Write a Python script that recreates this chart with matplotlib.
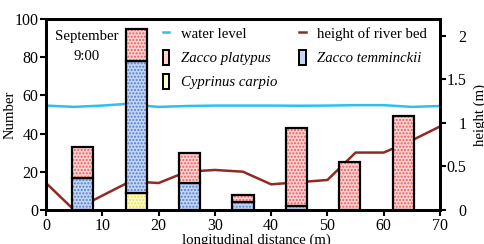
import matplotlib
matplotlib.use("Agg")
import matplotlib.pyplot as plt
import numpy as np
from matplotlib.patches import Patch
from matplotlib.lines import Line2D

plt.rcParams['font.family'] = ['Liberation Serif', 'DejaVu Serif']
plt.rcParams['hatch.linewidth'] = 1.0

# --- data ---
positions = [6.5, 16, 25.5, 35, 44.5, 54, 63.5]
cyprinus = [0, 9, 0, 0, 0, 0, 0]
temminckii = [17, 69, 14, 4, 2, 0, 0]
platypus = [16, 17, 16, 4, 41, 25, 49]

dist_water = [0, 5, 10, 14, 20, 25, 30, 35, 40, 45, 50, 55, 60, 65, 70]
water_level = [1.20, 1.185, 1.20, 1.218, 1.185, 1.195, 1.20, 1.20, 1.20, 1.198, 1.20, 1.205, 1.205, 1.185, 1.195]

dist_bed = [0, 5, 15, 20, 25, 30, 35, 40, 45, 50, 55, 60, 65, 70]
bed_height = [0.31, 0.0, 0.33, 0.31, 0.44, 0.46, 0.44, 0.295, 0.32, 0.345, 0.66, 0.66, 0.80, 0.96]

xticks = [0, 10, 20, 30, 40, 50, 60, 70]
yticks = [0, 20, 40, 60, 80, 100]
rticks = [0, 0.5, 1, 1.5, 2]
rticklabels = ['0', '0.5', '1', '1.5', '2']

# --- styles ---
bar_w = 3.75
red_face, red_hatch = '#fcd2d2', '#ec5a5a'
blue_face, blue_hatch = '#c4d6f2', '#4f7ed4'
yel_face, yel_hatch = '#fffbd0', '#f0e040'
water_col = '#2cc0f0'
bed_col = '#8e2b22'
FS = 10.6
TFS = 11.5

fig = plt.figure(figsize=(4.85, 2.44), dpi=100)
ax = fig.add_axes([46/485, 1-210/244, (440-46)/485, (210-19)/244])
ax2 = ax.twinx()
ax.set_zorder(ax2.get_zorder() + 1)
ax.patch.set_visible(False)

def draw_stack(vals, bottoms, face, hatchc):
    ax.bar(positions, vals, bar_w, bottom=bottoms, color=face, edgecolor=hatchc,
           hatch='.....', linewidth=0)
    nz = [v > 0 for v in vals]
    ax.bar(np.array(positions)[nz], np.array(vals)[nz], bar_w,
           bottom=np.array(bottoms)[nz], fill=False, edgecolor='black', linewidth=1.6)

b0 = np.zeros(len(positions))
draw_stack(cyprinus, b0, yel_face, yel_hatch)
b1 = b0 + np.array(cyprinus)
draw_stack(temminckii, b1, blue_face, blue_hatch)
b2 = b1 + np.array(temminckii)
draw_stack(platypus, b2, red_face, red_hatch)

ax2.plot(dist_water, water_level, color=water_col, lw=1.8)
ax2.plot(dist_bed, bed_height, color=bed_col, lw=1.8)

ax.set_xlim(0, 70)
ax.set_ylim(0, 100)
ax2.set_ylim(0, 2.195)
ax.set_xticks(xticks)
ax.set_yticks(yticks)
ax2.set_yticks(rticks)
ax2.set_yticklabels(rticklabels)

for a in (ax, ax2):
    for s in a.spines.values():
        s.set_linewidth(2)
ax.tick_params(direction='out', length=4, width=1.5, labelsize=TFS, pad=1.5)
ax2.tick_params(direction='out', length=4, width=1.5, labelsize=TFS, pad=15)
for lab in ax2.get_yticklabels():
    lab.set_horizontalalignment('right')

ax.set_xlabel('longitudinal distance (m)', fontsize=FS)
ax.xaxis.set_label_coords(0.533, -0.122)
ax.set_ylabel('Number', fontsize=FS)
ax.yaxis.set_label_coords(-0.074, 0.5)
ax2.set_ylabel('height (m)', fontsize=FS)
ax2.yaxis.set_label_coords(1.084, 0.5)

ax.text(0.104, 0.855, 'September\n9:00', transform=ax.transAxes, fontsize=FS,
        ha='center', va='center', linespacing=1.65)

handles = [Line2D([], [], color=water_col, lw=1.8),
           Patch(facecolor=red_face, edgecolor='black', linewidth=1.4),
           Patch(facecolor=yel_face, edgecolor='black', linewidth=1.4),
           Line2D([], [], color=bed_col, lw=1.8),
           Patch(facecolor=blue_face, edgecolor='black', linewidth=1.4)]
labels = ['water level', 'Zacco platypus', 'Cyprinus carpio',
          'height of river bed', 'Zacco temminckii']
leg = ax.legend(handles, labels, ncol=2, loc='upper left', bbox_to_anchor=(0.297, 0.965),
                frameon=False, fontsize=FS, handlelength=0.42, handleheight=1.2,
                handletextpad=0.8, columnspacing=1.5, labelspacing=0.58,
                borderaxespad=0, borderpad=0)
for t in leg.get_texts()[1:3] + leg.get_texts()[4:]:
    t.set_style('italic')

fig.savefig('out.png', dpi=100)
